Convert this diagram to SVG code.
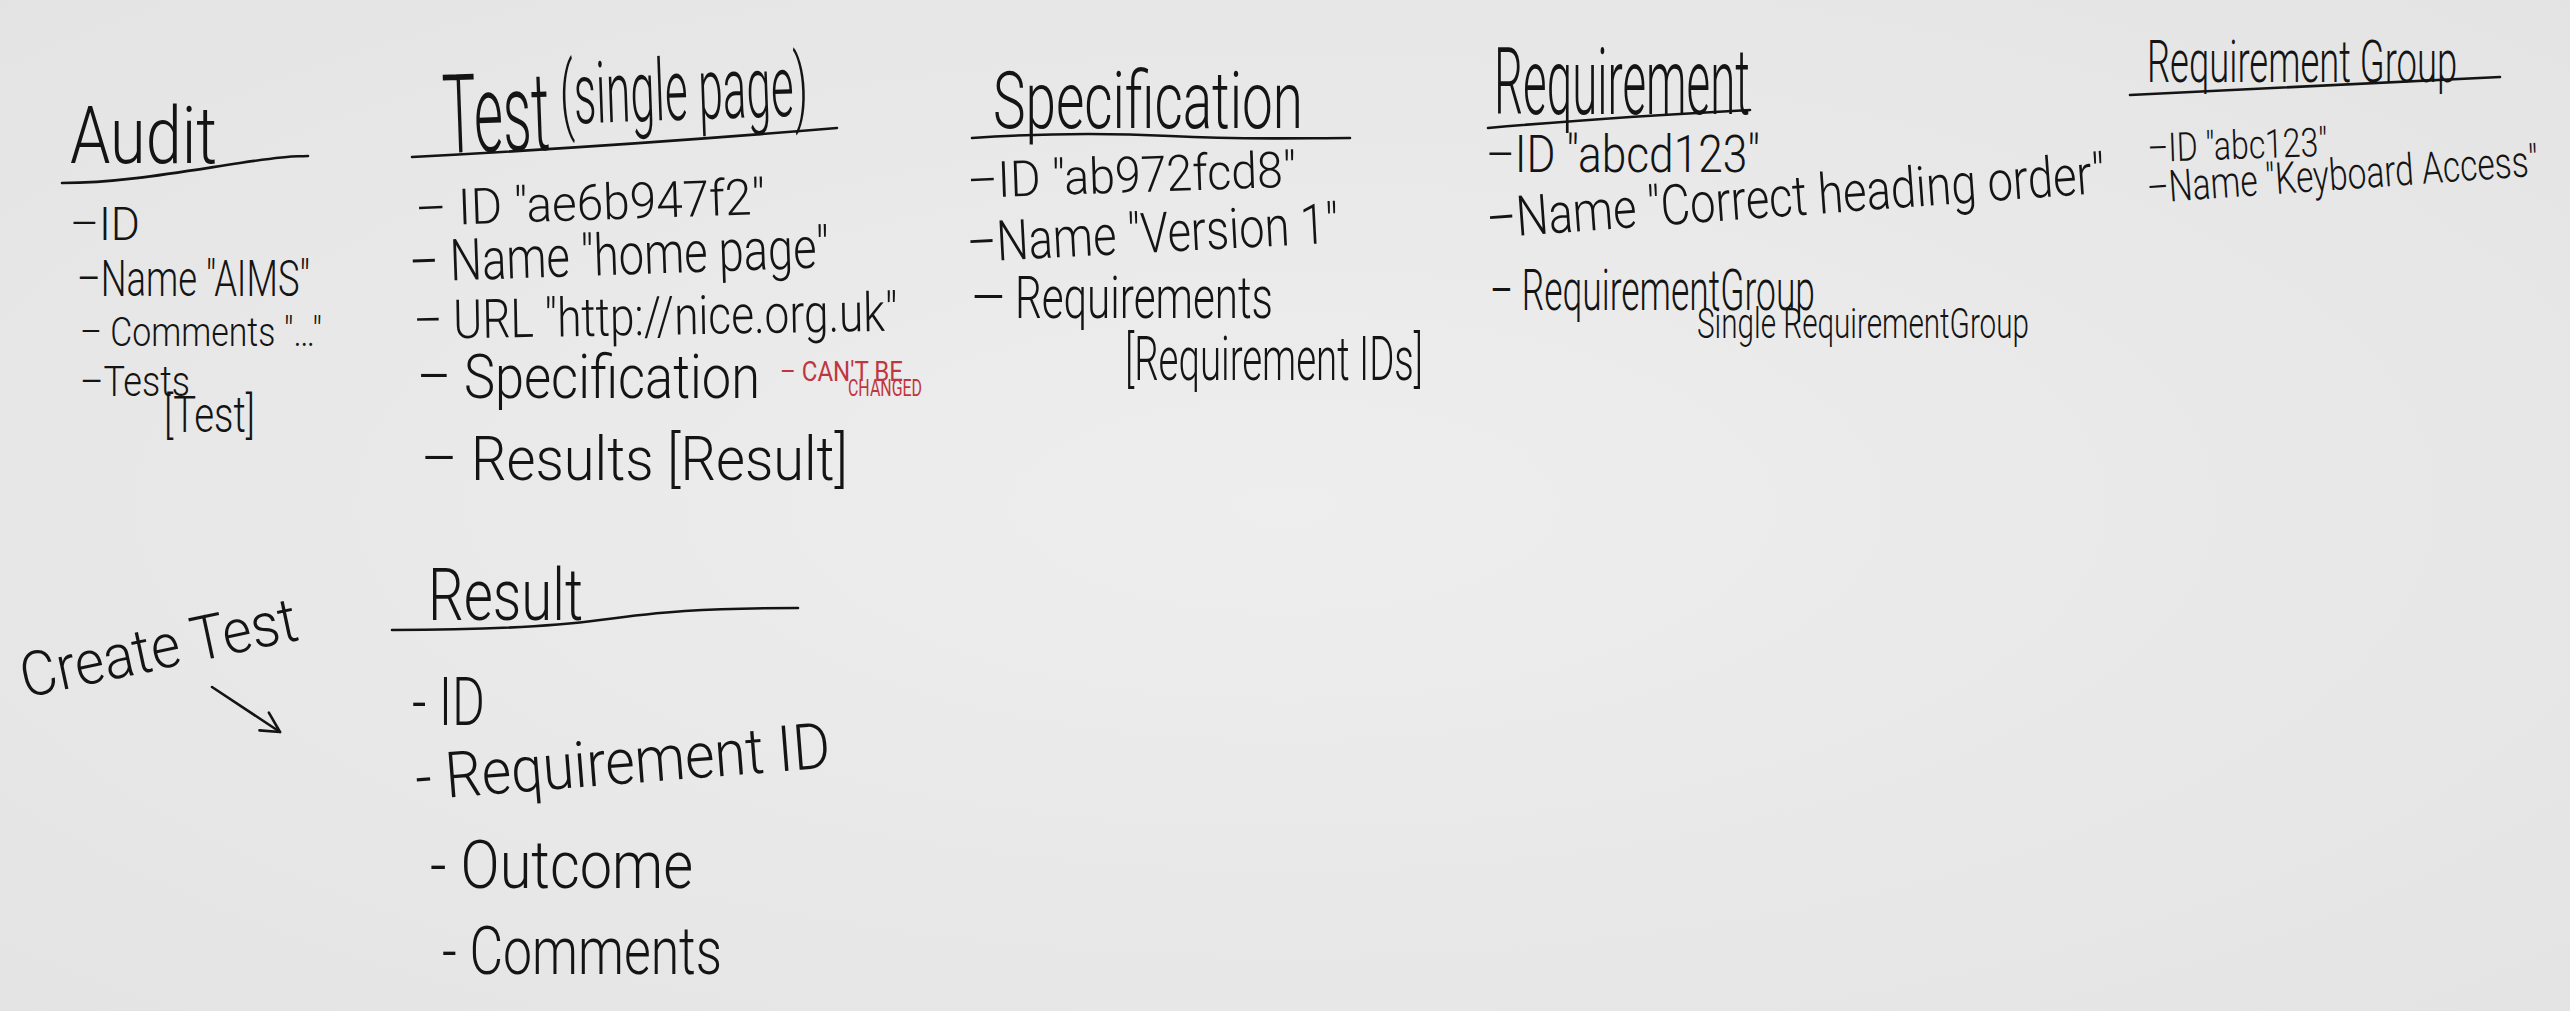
<svg xmlns="http://www.w3.org/2000/svg" width="2570" height="1011" viewBox="0 0 2570 1011">
<style>
.h{font-family:Roboto,'Liberation Sans','DejaVu Sans',sans-serif;font-weight:300;fill:#141414}
.r{font-family:Roboto,'Liberation Sans','DejaVu Sans',sans-serif;font-weight:400;fill:#c0363f}
.ul{fill:none;stroke:#141414;stroke-width:2.6;stroke-linecap:round}
.cn{fill:none;stroke:#141414;stroke-width:2.6;stroke-linecap:round;stroke-linejoin:round}
</style>
<defs>
<radialGradient id="bg" cx="50%" cy="50%" r="75%">
<stop offset="0" stop-color="#eeeeee"/>
<stop offset="1" stop-color="#e3e3e3"/>
</radialGradient>
<marker id="open" markerUnits="userSpaceOnUse" markerWidth="30" markerHeight="30" refX="22" refY="12" orient="auto" viewBox="0 0 30 24">
<path d="M2,2 L22,12 L4,22" fill="none" stroke="#141414" stroke-width="2.6" stroke-linecap="round" stroke-linejoin="round"/>
</marker>
</defs>
<rect width="2570" height="1011" fill="url(#bg)"/>

<g id="audit">
<text class="h" x="70" y="163" font-size="80" textLength="147" lengthAdjust="spacingAndGlyphs">Audit</text>
<path class="ul" d="M62,183 C120,183 180,172 240,163 S290,157 308,156"/>
<text class="h" x="70" y="240" font-size="46" textLength="70" lengthAdjust="spacingAndGlyphs">–ID</text>
<text class="h" x="77" y="296" font-size="50" textLength="233" lengthAdjust="spacingAndGlyphs">–Name "AIMS"</text>
<text class="h" x="80" y="346" font-size="40" textLength="242" lengthAdjust="spacingAndGlyphs">– Comments "…"</text>
<text class="h" x="80" y="396" font-size="42" textLength="110" lengthAdjust="spacingAndGlyphs">–Tests</text>
<text class="h" x="164" y="432" font-size="50" textLength="91" lengthAdjust="spacingAndGlyphs">[Test]</text>
</g>

<g id="test">
<text class="h" x="444" y="153" font-size="110" textLength="366" lengthAdjust="spacingAndGlyphs" transform="rotate(-2 444 153)">Test<tspan font-size="86" dy="-25"> (single page)</tspan></text>
<path class="ul" d="M412,157 Q620,146 837,128"/>
<text class="h" x="416" y="226" font-size="50" textLength="350" lengthAdjust="spacingAndGlyphs" transform="rotate(-2 416 226)">– ID "ae6b947f2"</text>
<text class="h" x="410" y="282" font-size="58" textLength="420" lengthAdjust="spacingAndGlyphs" transform="rotate(-2 410 282)">– Name "home page"</text>
<text class="h" x="414" y="339" font-size="54" textLength="484" lengthAdjust="spacingAndGlyphs" transform="rotate(-1 414 339)">– URL "http://nice.org.uk"</text>
<text class="h" x="417" y="398" font-size="62" textLength="343" lengthAdjust="spacingAndGlyphs">– Specification</text>
<text class="r" x="780" y="381" font-size="27" textLength="123" lengthAdjust="spacingAndGlyphs">– CAN'T BE</text>
<text class="r" x="848" y="396" font-size="24" textLength="74" lengthAdjust="spacingAndGlyphs">CHANGED</text>
<text class="h" x="421" y="480" font-size="62" textLength="427" lengthAdjust="spacingAndGlyphs">– Results [Result]</text>
</g>

<g id="specification">
<text class="h" x="993" y="128" font-size="80" textLength="310" lengthAdjust="spacingAndGlyphs">Specification</text>
<path class="ul" d="M972,138 C1030,134 1090,132 1170,136 S1300,138 1350,138"/>
<text class="h" x="968" y="198" font-size="50" textLength="329" lengthAdjust="spacingAndGlyphs" transform="rotate(-2 968 198)">–ID "ab972fcd8"</text>
<text class="h" x="968" y="262" font-size="56" textLength="372" lengthAdjust="spacingAndGlyphs" transform="rotate(-3 968 262)">–Name "Version 1"</text>
<text class="h" x="972" y="318" font-size="60" textLength="301" lengthAdjust="spacingAndGlyphs">— Requirements</text>
<text class="h" x="1125" y="380" font-size="62" textLength="298" lengthAdjust="spacingAndGlyphs">[Requirement IDs]</text>
</g>

<g id="requirement">
<text class="h" x="1494" y="114" font-size="92" textLength="256" lengthAdjust="spacingAndGlyphs">Requirement</text>
<path class="ul" d="M1488,128 Q1600,118 1750,110"/>
<text class="h" x="1486" y="172" font-size="52" textLength="274" lengthAdjust="spacingAndGlyphs">–ID "abcd123"</text>
<text class="h" x="1488" y="238" font-size="56" textLength="620" lengthAdjust="spacingAndGlyphs" transform="rotate(-4.2 1488 238)">–Name "Correct heading order"</text>
<text class="h" x="1490" y="310" font-size="58" textLength="325" lengthAdjust="spacingAndGlyphs">– RequirementGroup</text>
<text class="h" x="1697" y="338" font-size="42" textLength="332" lengthAdjust="spacingAndGlyphs">Single RequirementGroup</text>
</g>

<g id="requirement-group">
<text class="h" font-size="60" textLength="517" lengthAdjust="spacingAndGlyphs" transform="translate(2147 82) scale(0.6 1)">Requirement Group</text>
<path class="ul" d="M2130,95 L2500,77"/>
<text class="h" x="2148" y="162" font-size="40" textLength="180" lengthAdjust="spacingAndGlyphs" transform="rotate(-2 2148 162)">–ID "abc123"</text>
<text class="h" font-size="44" textLength="560" lengthAdjust="spacingAndGlyphs" transform="translate(2148 203) rotate(-4) scale(0.7 1)">–Name "Keyboard Access"</text>
</g>

<g id="create-test">
<text class="h" x="25" y="698" font-size="62" textLength="282" lengthAdjust="spacingAndGlyphs" transform="rotate(-12 25 698)">Create Test</text>
</g>

<g id="result">
<text class="h" x="428" y="620" font-size="72" textLength="155" lengthAdjust="spacingAndGlyphs">Result</text>
<path class="ul" d="M392,630 C470,630 540,628 600,620 S700,608 798,608"/>
<text class="h" x="412" y="725" font-size="66" textLength="73" lengthAdjust="spacingAndGlyphs">- ID</text>
<text class="h" x="417" y="800" font-size="64" textLength="416" lengthAdjust="spacingAndGlyphs" transform="rotate(-4.5 417 800)">- Requirement ID</text>
<text class="h" x="430" y="888" font-size="66" textLength="263" lengthAdjust="spacingAndGlyphs">- Outcome</text>
<text class="h" x="442" y="974" font-size="66" textLength="280" lengthAdjust="spacingAndGlyphs">- Comments</text>
</g>

<g id="connectors">
<path class="cn" d="M212,687 L280,732" marker-end="url(#open)"/>
</g>
</svg>
